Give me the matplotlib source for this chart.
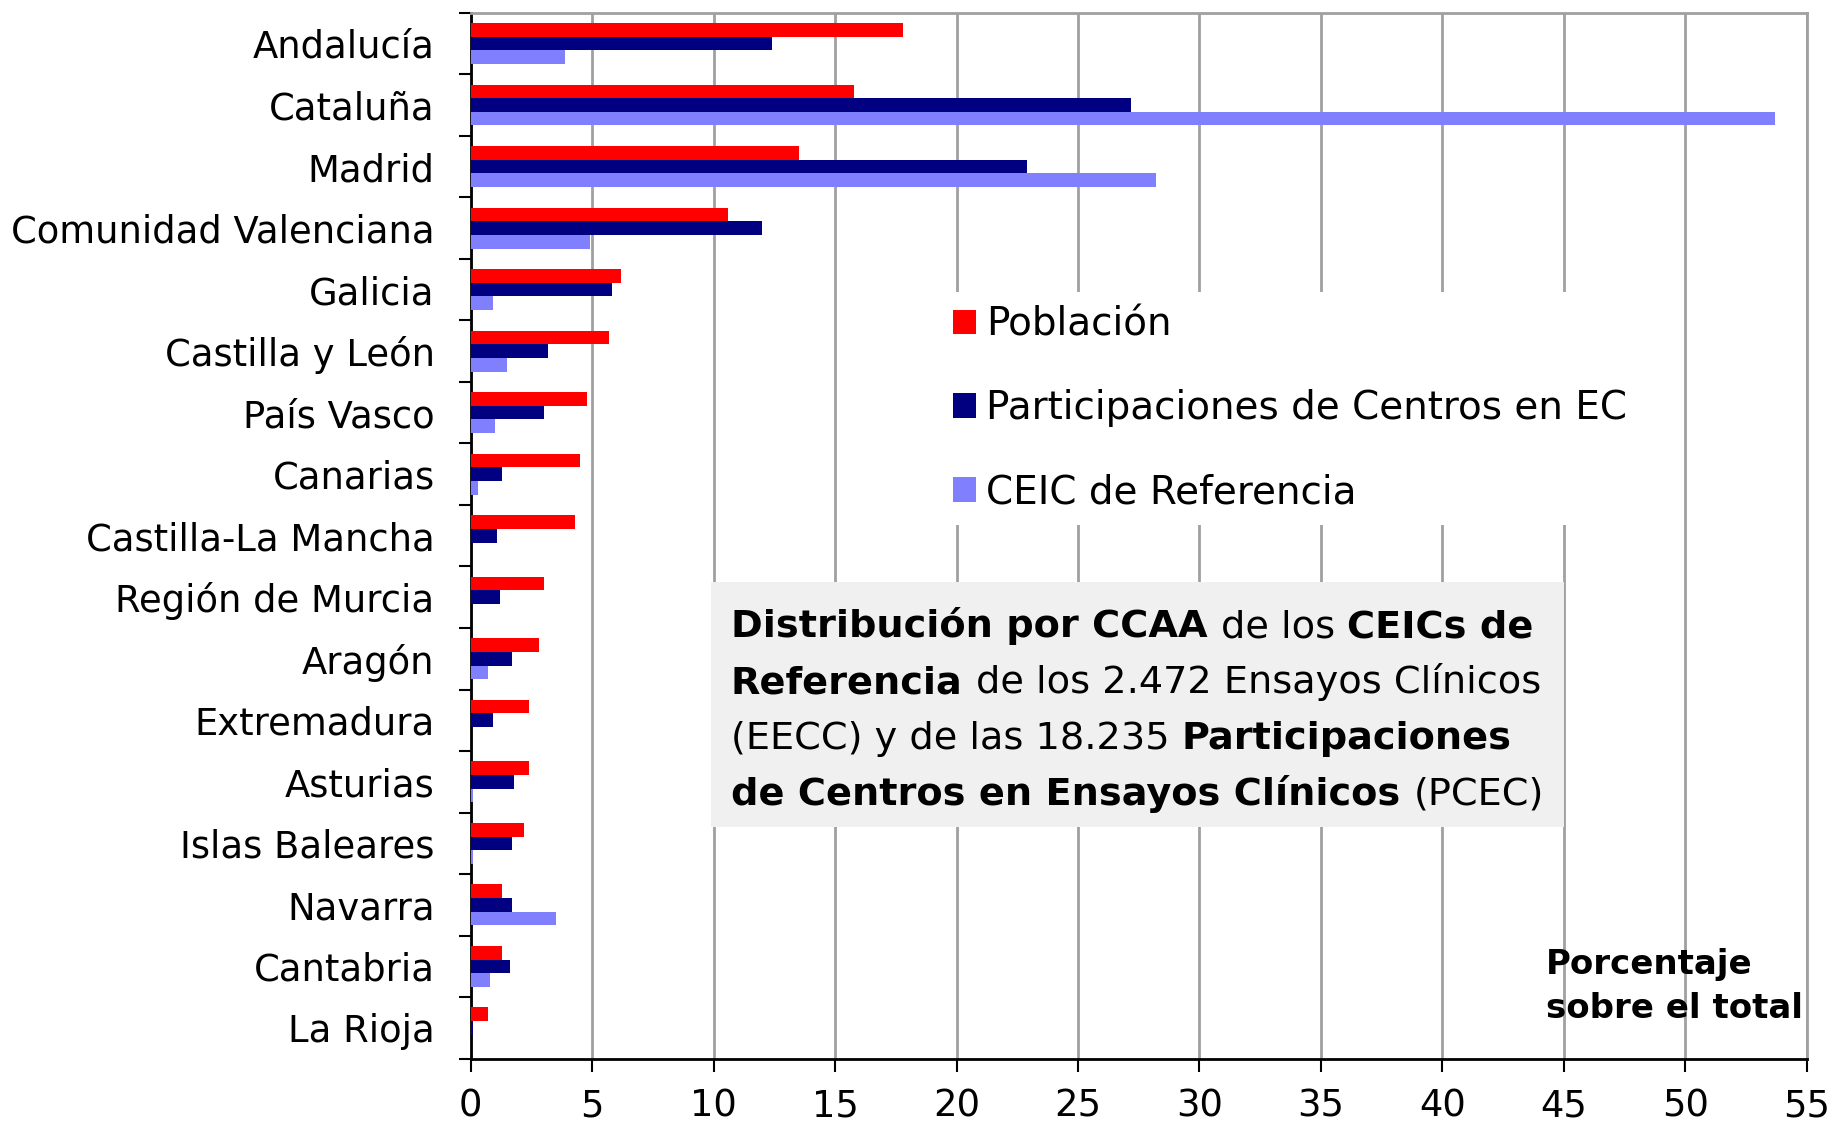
import matplotlib
matplotlib.use("Agg")
import matplotlib.pyplot as plt
import numpy as np
from matplotlib.patches import Rectangle, Patch

# Comunidades autónomas, de arriba abajo
regions = ["Andalucía", "Cataluña", "Madrid", "Comunidad Valenciana", "Galicia",
           "Castilla y León", "País Vasco", "Canarias", "Castilla-La Mancha",
           "Región de Murcia", "Aragón", "Extremadura", "Asturias",
           "Islas Baleares", "Navarra", "Cantabria", "La Rioja"]

# Porcentaje sobre el total
poblacion = [17.8, 15.8, 13.5, 10.6, 6.2, 5.7, 4.8, 4.5, 4.3,
             3.0, 2.8, 2.4, 2.4, 2.2, 1.3, 1.3, 0.7]
participaciones = [12.4, 27.2, 22.9, 12.0, 5.8, 3.2, 3.0, 1.3, 1.1,
                   1.2, 1.7, 0.9, 1.8, 1.7, 1.7, 1.6, 0.1]
ceic_referencia = [3.9, 53.7, 28.2, 4.9, 0.9, 1.5, 1.0, 0.3, 0.0,
                   0.0, 0.7, 0.0, 0.1, 0.1, 3.5, 0.8, 0.0]

series_labels = ["Población", "Participaciones de Centros en EC", "CEIC de Referencia"]
series_colors = ["#FF0000", "#000080", "#8080FF"]
xticks = list(range(0, 60, 5))

W, H = 1829, 1126
fig = plt.figure(figsize=(W / 100, H / 100), dpi=100)
fig.patch.set_facecolor("white")

ax_l, ax_r, ax_t, ax_b = 470.7, 1806.7, 12.7, 1058.7
ax = fig.add_axes([ax_l / W, 1 - ax_b / H, (ax_r - ax_l) / W, (ax_b - ax_t) / H])

y = np.arange(len(regions))
bh = 0.222
for k, (vals, col, lab) in enumerate(zip([poblacion, participaciones, ceic_referencia],
                                         series_colors, series_labels)):
    ax.barh(y + (k - 1) * bh, vals, height=bh, color=col, label=lab,
            edgecolor="none", zorder=3)

ax.set_xlim(0, 55)
ax.set_ylim(len(regions) - 0.5, -0.5)

ax.set_axisbelow(True)
ax.set_xticks(xticks)
ax.set_xticklabels([str(t) for t in xticks])
ax.xaxis.grid(True, color="#a0a0a0", linewidth=2)
ax.yaxis.grid(False)

ax.set_yticks(y)
ax.set_yticklabels(regions)
ax.set_yticks(np.arange(-0.5, len(regions)), minor=True)

for s in ["left", "bottom"]:
    ax.spines[s].set_color("black")
    ax.spines[s].set_linewidth(2)
for s in ["top", "right"]:
    ax.spines[s].set_color("#a0a0a0")
    ax.spines[s].set_linewidth(2)

ax.tick_params(axis="y", which="major", length=0, pad=26, labelsize=26.6)
ax.tick_params(axis="y", which="minor", length=8.5, width=1.5, direction="out")
ax.tick_params(axis="x", which="major", length=9.5, width=1.5, direction="out",
               pad=11, labelsize=26.6)

# Leyenda con fondo blanco
handles = [Patch(facecolor=c, edgecolor="none") for c in series_colors]
leg = ax.legend(handles, series_labels, loc="upper left",
                bbox_to_anchor=(939 / W, 1 - 292 / H), bbox_transform=fig.transFigure,
                fontsize=28, frameon=True, fancybox=False, borderpad=0.35,
                handlelength=0.6, handleheight=0.6, handletextpad=0.25,
                labelspacing=1.18, borderaxespad=0)
leg.get_frame().set_facecolor("white")
leg.get_frame().set_edgecolor("none")
leg.get_frame().set_alpha(1)

# Recuadro descriptivo
fig.add_artist(Rectangle((711 / W, 1 - 827 / H), (1564 - 711) / W, (827 - 582) / H,
                         transform=fig.transFigure, facecolor="#f0f0f0",
                         edgecolor="none", zorder=4))

box_lines = [
    [("Distribución por CCAA", True), ("de los", False), ("CEICs de", True)],
    [("Referencia", True), ("de los 2.472 Ensayos Clínicos", False)],
    [("(EECC) y de las 18.235", False), ("Participaciones", True)],
    [("de Centros en Ensayos Clínicos", True), ("(PCEC)", False)],
]
box_fs = 27.5
renderer = fig.canvas.get_renderer()


def text_width(s, bold, fs):
    t = fig.text(0, 0, s, fontsize=fs, fontweight="bold" if bold else "normal")
    w = t.get_window_extent(renderer).width
    t.remove()
    return w


space_w = {b: text_width("x x", b, box_fs) - text_width("xx", b, box_fs)
           for b in (True, False)}

x0 = 731
baselines = [637, 693, 749, 805]
for line, base in zip(box_lines, baselines):
    x = x0
    for i, (s, bold) in enumerate(line):
        fig.text(x / W, 1 - base / H, s, fontsize=box_fs,
                 fontweight="bold" if bold else "normal",
                 va="baseline", ha="left", zorder=5)
        x += text_width(s, bold, box_fs)
        if i < len(line) - 1:
            x += space_w[bold]

for s, base in zip(["Porcentaje", "sobre el total"], [974, 1018]):
    fig.text(1546 / W, 1 - base / H, s, fontsize=24.5, fontweight="bold",
             va="baseline", ha="left")

fig.savefig("out.png", dpi=100, facecolor="white")
